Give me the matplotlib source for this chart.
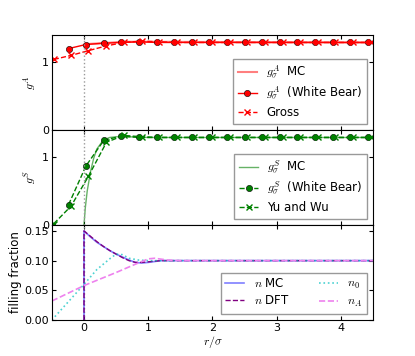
import matplotlib
matplotlib.use("Agg")
import matplotlib.pyplot as plt

plt.rcParams['font.size'] = 8.5
plt.rcParams['xtick.labelsize'] = 8
plt.rcParams['ytick.labelsize'] = 8
plt.rcParams['mathtext.fontset'] = 'cm'
plt.rcParams['xtick.direction'] = 'in'
plt.rcParams['ytick.direction'] = 'in'
plt.rcParams['xtick.top'] = True
plt.rcParams['ytick.right'] = True
plt.rcParams['xtick.major.size'] = 3
plt.rcParams['ytick.major.size'] = 3
plt.rcParams['xtick.major.pad'] = 2
plt.rcParams['ytick.major.pad'] = 2
plt.rcParams['legend.fancybox'] = False
plt.rcParams['legend.edgecolor'] = '0.6'
plt.rcParams['legend.framealpha'] = 1
plt.rcParams['legend.labelspacing'] = 0.35

# White Bear points (same grid for A and S)
wb_x = [-0.24, 0.03, 0.31, 0.58, 0.86, 1.13, 1.40, 1.68, 1.95, 2.23,
        2.50, 2.77, 3.05, 3.32, 3.60, 3.87, 4.14, 4.42]
gA_wb = [1.20, 1.26, 1.28, 1.29, 1.30, 1.29, 1.29, 1.29, 1.29, 1.29,
         1.29, 1.29, 1.29, 1.29, 1.29, 1.29, 1.29, 1.29]
gS_wb = [0.30, 0.87, 1.25, 1.31, 1.29, 1.29, 1.29, 1.29, 1.29, 1.29,
         1.29, 1.29, 1.29, 1.29, 1.29, 1.29, 1.29, 1.29]

# Gross / Yu and Wu points
th_x = [-0.47, -0.20, 0.07, 0.35, 0.62, 0.90, 1.17, 1.45, 1.72, 1.99,
        2.27, 2.54, 2.82, 3.09, 3.37, 3.64, 3.91, 4.19, 4.46]
gA_gross = [1.04, 1.10, 1.17, 1.24, 1.29, 1.31, 1.30, 1.29, 1.29, 1.29,
            1.29, 1.29, 1.29, 1.29, 1.29, 1.29, 1.29, 1.29, 1.29]
gS_yuwu = [0.02, 0.28, 0.72, 1.22, 1.32, 1.30, 1.29, 1.29, 1.29, 1.29,
           1.29, 1.29, 1.29, 1.29, 1.29, 1.29, 1.29, 1.29, 1.29]

# Monte Carlo contact values
gA_mc_x = [0.0, 0.1, 0.3, 0.6, 1.0, 4.5]
gA_mc = [1.25, 1.27, 1.28, 1.30, 1.30, 1.29]
gS_mc_x = [0.0, 0.02, 0.05, 0.1, 0.15, 0.2, 0.3, 0.4, 0.5, 0.7, 1.0, 4.5]
gS_mc = [0.0, 0.25, 0.5, 0.78, 0.98, 1.12, 1.25, 1.29, 1.30, 1.30, 1.29, 1.29]

# filling fractions
n_x = [0.0, 0.0, 0.1, 0.2, 0.3, 0.4, 0.5, 0.6, 0.7, 0.8, 0.9, 1.0, 1.2, 1.5, 4.5]
n_mc = [0.0, 0.150, 0.140, 0.131, 0.124, 0.117, 0.111, 0.106, 0.101, 0.097,
        0.096, 0.097, 0.100, 0.100, 0.100]
n_dft = [0.0, 0.150, 0.141, 0.132, 0.124, 0.117, 0.111, 0.105, 0.100, 0.097,
         0.097, 0.098, 0.100, 0.100, 0.100]
n0_x = [-0.5, 0.0, 0.2, 0.4, 0.5, 0.6, 0.7, 0.85, 1.0, 4.5]
n0 = [0.0, 0.060, 0.085, 0.103, 0.111, 0.110, 0.104, 0.101, 0.100, 0.100]
nA_x = [-0.5, 0.0, 0.5, 0.8, 1.0, 1.1, 1.3, 1.5, 4.5]
nA = [0.032, 0.058, 0.080, 0.094, 0.103, 0.104, 0.101, 0.100, 0.100]

fig = plt.figure(figsize=(4.15, 3.56), dpi=100)
h = 95 / 356.
ax1 = fig.add_axes([0.125, 0.1011 + 2 * h, 0.774, h])
ax2 = fig.add_axes([0.125, 0.1011 + h, 0.774, h])
ax3 = fig.add_axes([0.125, 0.1011, 0.774, h])

# top: g^A
ax1.plot(gA_mc_x, gA_mc, '-', color='r', alpha=0.5, lw=1.5, label=r'$g_\sigma^A$  MC')
ax1.plot(wb_x, gA_wb, 'o-', color='r', mec='k', mew=0.4, ms=4.5, lw=1,
         label=r'$g_\sigma^A$  (White Bear)')
ax1.plot(th_x, gA_gross, 'x--', color='r', ms=4, lw=1, label='Gross')
ax1.axvline(0, color='0.6', ls=':', lw=1)
ax1.set_ylim(0, 1.4)
ax1.set_yticks([0, 1])
ax1.set_ylabel(r'$g^A$', labelpad=3)
ax1.legend(loc='lower right', handlelength=1.6)

# middle: g^S
ax2.plot(gS_mc_x, gS_mc, '-', color='g', alpha=0.6, lw=1, label=r'$g_\sigma^S$  MC')
ax2.plot(wb_x, gS_wb, 'o--', color='g', mec='k', mew=0.4, ms=4.5, lw=1,
         label=r'$g_\sigma^S$  (White Bear)')
ax2.plot(th_x, gS_yuwu, 'x--', color='g', ms=4, lw=1, label='Yu and Wu')
ax2.axvline(0, color='0.6', ls=':', lw=1)
ax2.set_ylim(0, 1.4)
ax2.set_yticks([0, 1])
ax2.set_ylabel(r'$g^S$', labelpad=3)
ax2.legend(loc='lower right', handlelength=1.6)

# bottom: filling fraction
ax3.axvline(0, color='0.6', ls=':', lw=1)
ax3.plot(n_x, n_mc, '-', color='b', alpha=0.5, lw=1.2, label=r'$n$ MC')
ax3.plot(n_x, n_dft, '--', color='purple', lw=1, label=r'$n$ DFT')
ax3.plot(n0_x, n0, ':', color='c', lw=1.2, alpha=0.7, label=r'$n_0$')
ax3.plot(nA_x, nA, '--', color='violet', lw=1.2, label=r'$n_A$')
ax3.set_ylim(0, 0.16)
ax3.set_yticks([0, 0.05, 0.10, 0.15])
ax3.set_yticklabels(['0.00', '0.05', '0.10', '0.15'])
ax3.set_ylabel('filling fraction', labelpad=2)
ax3.set_xlabel(r'$r/\sigma$', labelpad=1)
ax3.legend(loc='lower right', ncol=2, handlelength=1.6, columnspacing=2.5)

for ax in (ax1, ax2, ax3):
    ax.set_xlim(-0.5, 4.5)
    ax.set_xticks([0, 1, 2, 3, 4])
for ax in (ax1, ax2):
    ax.tick_params(labelbottom=False)

fig.savefig('out.png', dpi=100)
